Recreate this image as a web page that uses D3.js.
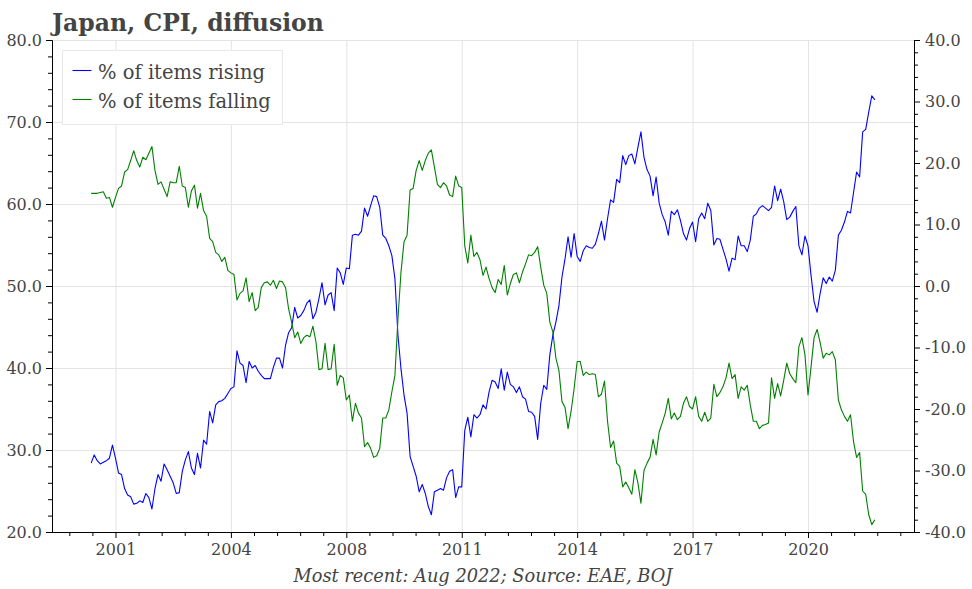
<!DOCTYPE html>
<html><head><meta charset="utf-8">
<script src="https://cdn.jsdelivr.net/npm/d3@7"></script>
<style>
body{margin:0;background:#fff}
svg text{font-family:"DejaVu Serif",serif}
</style>
</head><body><svg id="c" width="972" height="589"></svg>
<script>
const title = "Japan, CPI, diffusion";
const caption = "Most recent: Aug 2022; Source: EAE, BOJ";
const seriesNames = ["% of items rising", "% of items falling"];
const seriesColors = ["#0000ff", "#008000"];
const firstMonth = "2001-02";
const rising = [
28.4,29.4,28.7,28.3,28.5,28.7,29.0,30.6,29.0,27.2,27.0,25.3,
24.5,24.3,23.4,23.5,23.8,23.6,24.7,24.2,22.8,25.3,27.0,26.2,
28.3,27.6,26.8,26.0,24.7,24.8,27.4,28.8,29.8,27.8,27.0,29.6,
27.8,31.2,30.7,34.7,33.3,35.5,35.9,36.0,36.3,36.9,37.5,37.7,
42.1,40.6,40.3,38.2,40.8,40.0,40.3,39.6,39.1,38.7,38.7,38.7,
40.1,41.2,41.2,40.0,42.8,44.3,44.9,47.4,46.1,46.4,47.0,47.9,
48.3,46.0,46.8,48.5,50.4,47.7,48.9,49.2,47.0,52.2,51.6,50.2,
52.2,52.1,56.2,56.3,56.2,56.7,59.5,58.5,59.8,61.0,60.9,59.6,
56.2,55.8,54.9,53.7,50.9,44.0,39.9,36.7,34.5,29.2,28.0,26.8,
24.9,25.8,24.7,23.1,22.1,24.9,25.1,25.3,25.1,26.6,27.4,27.6,
24.2,25.5,25.5,32.4,34.0,31.6,34.3,33.9,34.3,35.5,35.0,37.1,
38.5,38.3,37.5,39.9,37.3,39.5,38.0,37.7,37.0,37.7,36.5,36.2,
34.7,34.6,34.1,31.3,35.7,37.9,37.4,41.6,44.0,45.6,47.6,51.1,
53.3,56.0,53.5,56.4,53.6,53.0,54.3,54.9,54.7,54.6,55.1,56.4,
57.9,55.6,58.2,60.5,60.2,63.0,62.6,65.9,64.8,65.9,66.1,64.9,
66.9,68.8,65.7,64.2,63.4,61.0,63.3,60.1,58.7,57.8,56.2,59.1,
58.7,59.3,58.0,56.4,55.6,57.0,57.8,55.4,58.2,58.9,58.2,60.1,
59.2,55.0,55.8,55.7,54.5,53.3,51.8,53.4,53.2,56.1,54.9,54.9,
54.2,55.6,58.5,58.8,59.5,59.8,59.5,59.2,59.6,62.2,60.4,61.8,
60.3,58.1,58.4,59.1,59.7,54.9,53.8,56.1,54.9,51.3,48.1,46.8,
49.1,51.0,50.3,51.1,50.6,51.9,56.2,56.8,57.8,59.1,58.9,61.4,
63.9,63.3,68.8,69.1,71.2,73.2,72.7
];
const falling = [
61.3,61.3,61.3,61.4,61.5,60.7,60.8,59.6,60.8,61.9,62.2,63.9,
64.2,65.3,66.5,65.3,64.5,65.7,65.4,66.2,67.0,64.1,62.4,62.7,
61.8,60.9,62.7,62.6,62.6,64.6,62.2,62.0,59.6,61.6,62.3,59.5,
61.3,59.2,58.5,55.8,55.4,54.1,53.8,53.0,53.5,51.9,51.6,51.4,
48.3,49.1,49.4,51.0,48.1,49.2,47.0,47.4,49.8,50.4,50.5,50.1,
50.7,49.7,50.6,50.5,49.8,47.2,45.6,43.7,44.4,43.0,43.7,44.0,
43.8,45.1,43.2,39.8,39.9,43.0,39.8,39.9,42.9,37.9,39.1,38.8,
36.1,36.7,33.5,35.7,34.5,33.9,30.4,30.9,30.2,29.1,29.3,30.2,
33.9,33.9,34.9,37.1,39.1,46.0,51.7,55.4,56.2,61.7,61.9,64.1,
65.3,64.1,65.3,66.2,66.6,64.5,62.4,62.0,62.6,62.2,61.1,60.9,
63.4,62.2,62.0,54.9,52.8,56.2,53.6,54.1,53.2,51.3,52.3,50.9,
49.8,49.2,50.8,50.2,52.5,48.9,50.3,51.4,51.6,50.4,51.7,52.7,
53.8,53.7,54.1,54.8,52.3,50.1,49.1,45.6,44.4,41.2,39.7,35.9,
35.2,32.6,34.7,37.5,40.8,40.8,39.1,39.5,39.2,39.3,39.2,36.5,
36.8,38.4,33.5,30.3,31.1,28.4,28.0,25.5,26.1,25.4,24.6,27.6,
26.0,23.5,27.5,28.4,29.1,31.3,29.4,32.2,33.3,34.5,36.3,33.8,
34.5,33.7,34.1,35.7,36.5,35.3,35.0,36.5,34.1,33.5,34.6,33.5,
33.9,38.0,36.5,37.0,37.7,38.8,40.6,38.7,39.2,36.3,37.7,37.3,
37.9,35.5,33.5,33.5,32.6,33.0,33.1,33.3,38.8,36.3,38.1,36.6,
38.5,40.6,39.3,38.7,38.2,42.6,43.7,41.6,36.7,40.1,43.7,44.7,
43.1,41.2,41.8,41.6,42.0,41.0,36.1,34.9,34.1,33.5,34.3,31.0,
29.1,29.7,25.0,24.6,22.1,20.9,21.5
];
const xTickMonths = ["2001-10","2004-12","2008-02","2011-04","2014-06","2017-08","2020-10"];
const xTickLabels = ["2001","2004","2008","2011","2014","2017","2020"];
const leftTicks = [20,30,40,50,60,70,80];
const rightTicks = [-40,-30,-20,-10,0,10,20,30,40];

const textColor = "#444";
const svg = d3.select("#c");
const L = 52, R = 914, T = 40, B = 532;

const parseMonth = d3.timeParse("%Y-%m");
const fmtMonth = d3.timeFormat("%Y-%m");
const start = parseMonth(firstMonth);
const months = rising.map((_, i) => fmtMonth(d3.timeMonth.offset(start, i)));
const n = months.length;
const pad = 0.05 * (n - 1);
const x = d3.scaleLinear().domain([-pad, n - 1 + pad]).range([L, R]);
const yL = d3.scaleLinear().domain([20, 80]).range([B, T]);
const yR = d3.scaleLinear().domain([-40, 40]).range([B, T]);

const majorIdx = xTickMonths.map(m => months.indexOf(m));
const step = (majorIdx[1] - majorIdx[0]) / 5;
const minorIdx = [];
for (let k = Math.ceil((x.domain()[0] - majorIdx[0]) / step); majorIdx[0] + k * step <= x.domain()[1]; k++) {
  if (k % 5 !== 0) minorIdx.push(majorIdx[0] + k * step);
}
const minorY = d3.range(20, 80.01, 2).filter(v => v % 10 !== 0);
const minorYR = d3.range(-40, 40.01, 2).filter(v => v % 10 !== 0);

// gridlines
const grid = svg.append("g");
grid.append("g").attr("transform", `translate(0,${T})`)
  .call(d3.axisTop(x).tickValues(majorIdx).tickSize(-(B - T)).tickFormat(""))
  .call(g => g.select(".domain").remove());
grid.append("g").attr("transform", `translate(${L},0)`)
  .call(d3.axisLeft(yL).tickValues(leftTicks).tickSize(-(R - L)).tickFormat(""))
  .call(g => g.select(".domain").remove());
grid.selectAll("line").attr("stroke", "#e4e4e4").attr("stroke-width", 1);

// lines
const series = [rising, falling];
series.forEach((vals, si) => {
  svg.append("path")
    .datum(vals)
    .attr("fill", "none")
    .attr("stroke", seriesColors[si])
    .attr("stroke-width", 1.1)
    .attr("stroke-linejoin", "round")
    .attr("d", d3.line().x((d, i) => x(i)).y(d => yL(d)));
});

// axes
function styleAxis(g) {
  g.selectAll("text").attr("font-family", "DejaVu Serif").attr("font-size", 16).attr("fill", textColor);
  g.selectAll("line").attr("stroke", "#000");
  g.select(".domain").attr("stroke", "#000");
  g.attr("font-family", null);
}
svg.append("g").attr("transform", `translate(0,${B})`)
  .call(d3.axisBottom(x).tickValues(minorIdx).tickSize(4).tickSizeOuter(0).tickFormat(""))
  .call(styleAxis);
svg.append("g").attr("transform", `translate(0,${B})`)
  .call(d3.axisBottom(x).tickValues(majorIdx).tickSize(6).tickSizeOuter(0).tickPadding(6)
    .tickFormat((d, i) => xTickLabels[i]))
  .call(styleAxis);
svg.append("g").attr("transform", `translate(${L},0)`)
  .call(d3.axisLeft(yL).tickValues(minorY).tickSize(4).tickSizeOuter(0).tickFormat(""))
  .call(styleAxis);
svg.append("g").attr("transform", `translate(${L},0)`)
  .call(d3.axisLeft(yL).tickValues(leftTicks).tickSize(6).tickSizeOuter(0).tickPadding(4)
    .tickFormat(d => d.toFixed(1)))
  .call(styleAxis);
svg.append("g").attr("transform", `translate(${R},0)`)
  .call(d3.axisRight(yR).tickValues(minorYR).tickSize(4).tickSizeOuter(0).tickFormat(""))
  .call(styleAxis);
svg.append("g").attr("transform", `translate(${R},0)`)
  .call(d3.axisRight(yR).tickValues(rightTicks).tickSize(6).tickSizeOuter(0).tickPadding(5)
    .tickFormat(d => d.toFixed(1)))
  .call(styleAxis);

// legend
const lg = svg.append("g");
lg.append("rect").attr("x", 62.5).attr("y", 50.5).attr("width", 220).attr("height", 74)
  .attr("fill", "#fff").attr("stroke", "#e8e8e8");
seriesNames.forEach((name, i) => {
  const yy = 70.5 + i * 29;
  lg.append("line").attr("x1", 72.5).attr("x2", 91.5).attr("y1", yy).attr("y2", yy)
    .attr("stroke", seriesColors[i]).attr("stroke-width", 1.1);
  lg.append("text").attr("x", 98).attr("y", yy + 8.5).attr("font-size", 19.5)
    .attr("fill", textColor).text(name);
});

// title and caption
svg.append("text").attr("x", 52).attr("y", 31).attr("font-size", 23.5)
  .attr("font-weight", "bold").attr("fill", textColor).text(title);
svg.append("text").attr("x", (L + R) / 2).attr("y", 582).attr("text-anchor", "middle")
  .attr("font-size", 17.8).attr("font-style", "italic").attr("fill", textColor).text(caption);
</script>
</body></html>
